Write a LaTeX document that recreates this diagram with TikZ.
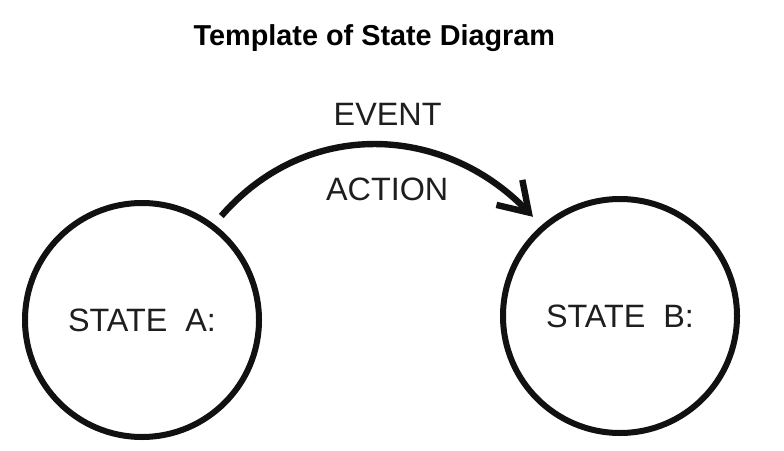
\documentclass[tikz,border=0pt]{standalone}
\usepackage{fontspec}
\setmainfont{Liberation Sans}
\setsansfont{Liberation Sans}
\usetikzlibrary{arrows.meta}

\definecolor{stateInk}{RGB}{17,17,17}
\definecolor{stateLabel}{RGB}{30,30,30}

\begin{document}
\begin{tikzpicture}[x=1cm,y=1cm,
      heading/.style={font=\fontsize{20.5}{24}\selectfont\sffamily\bfseries,
        text=black},
      state/.style={circle, draw=stateInk, line width=.15cm,
        minimum size=5.85cm, inner sep=0pt,
        font=\fontsize{23}{27}\selectfont\sffamily, text=stateLabel},
      tag/.style={font=\fontsize{23}{27}\selectfont\sffamily,
        text=stateLabel},
      transition/.style={draw=stateInk, line width=.16cm,
        -{Straight Barb[length=7mm,width=9mm]},
        shorten <=.27cm, shorten >=.3cm}]
      \useasboundingbox (0,0) rectangle (19.6,11.25);

      \fill[white] (0,0) rectangle (19.6,11.25);

      \node[heading] (title) at (9.36,10.3) {Template of State Diagram};

      \node[state] (stateA) at (3.55,3.25) {STATE~~A:};
      \node[state] (stateB) at (15.5,3.35) {STATE~~B:};

      \draw[transition] (stateA.53) to[out=49, in=134, looseness=1.1]
        (stateB.131);

      \node[tag] (event) at (9.69,8.4) {EVENT};
      \node[tag] (action) at (9.68,6.52) {ACTION};
    \end{tikzpicture}
\end{document}
